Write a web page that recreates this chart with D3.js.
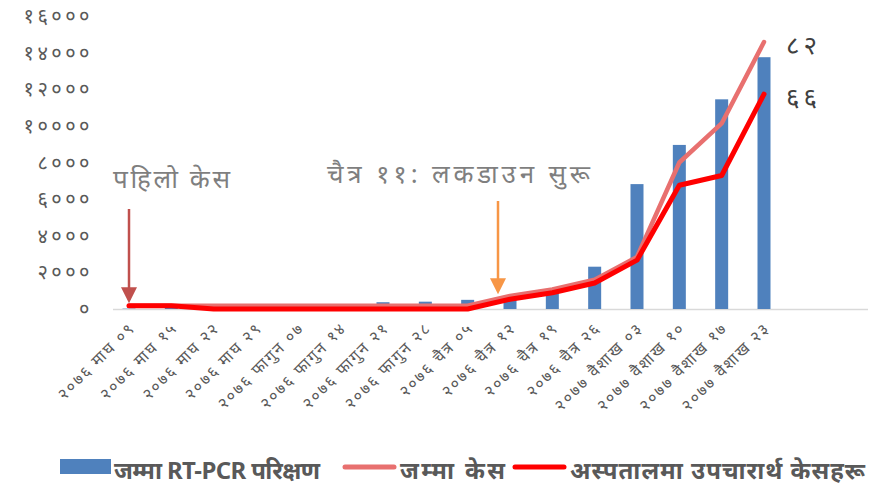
<!DOCTYPE html>
<html><head><meta charset="utf-8">
<script src="https://cdn.jsdelivr.net/npm/d3@7"></script>
<style>
html,body{margin:0;padding:0;background:#fff;}
svg{display:block;font-family:"Noto Sans","DejaVu Sans",sans-serif;}
</style></head>
<body>
<svg id="c" width="874" height="486"></svg>
<script>
// ---- data ----
const categories = ["२०७६ माघ ०९","२०७६ माघ १५","२०७६ माघ २२","२०७६ माघ २९","२०७६ फागुन ०७","२०७६ फागुन १४","२०७६ फागुन २१","२०७६ फागुन २८","२०७६ चैत्र ०५","२०७६ चैत्र १२","२०७६ चैत्र १९","२०७६ चैत्र २६","२०७७ वैशाख ०३","२०७७ वैशाख १०","२०७७ वैशाख १७","२०७७ वैशाख २३"];
const tests = [20, 60, 100, 150, 200, 250, 370, 400, 500, 650, 1090, 2310, 6820, 8960, 11450, 13750];
const totalCases = [1, 1, 1, 1, 1, 1, 1, 1, 1, 4, 6, 9, 16, 45, 57, 82];
const hospital = [1, 1, 0, 0, 0, 0, 0, 0, 0, 3, 5, 8, 15, 38, 41, 66];
const yTickValues = [0, 2000, 4000, 6000, 8000, 10000, 12000, 14000, 16000];
const yTickLabels = ["०","२०००","४०००","६०००","८०००","१००००","१२०००","१४०००","१६०००"];
const endLabels = ["८२","६६"];
const legendLabels = ["जम्मा RT-PCR परिक्षण","जम्मा केस","अस्पतालमा उपचारार्थ केसहरू"];
const annFirst = "पहिलो केस";
const annLockdown = "चैत्र ११: लकडाउन सुरू";

// ---- drawing ----
const svg = d3.select("#c");
const x = d3.scalePoint().domain(categories).range([129, 764]);
const y = d3.scaleLinear().domain([0, 16000]).range([309, 16]);
const y2 = d3.scaleLinear().domain([0, 90]).range([309, 16]);
const barW = 13;

const defs = svg.append("defs");
function marker(id, color){
  defs.append("marker").attr("id", id).attr("viewBox","0 0 10 10")
    .attr("refX", 8).attr("refY", 5).attr("markerWidth", 16).attr("markerHeight", 16)
    .attr("markerUnits","userSpaceOnUse").attr("orient","auto")
    .append("path").attr("d","M0,0 L10,5 L0,10 z").attr("fill", color);
}
marker("mRed", "#c0504d");
marker("mOrange", "#f79646");

// axis line
svg.append("line").attr("x1",113).attr("x2",868).attr("y1",y(0)+0.5).attr("y2",y(0)+0.5)
  .attr("stroke","#d9d9d9").attr("stroke-width",1.5);

// y tick labels
svg.append("g").selectAll("text").data(yTickValues).join("text")
  .attr("x", 93).attr("y", d => y(d)).attr("dy","0.35em")
  .attr("text-anchor","end").attr("fill","#595959").attr("font-size",20)
  .attr("letter-spacing", 3.5)
  .text((d,i) => yTickLabels[i]);

// bars
svg.append("g").selectAll("rect").data(tests).join("rect")
  .attr("x", (d,i) => x(categories[i]) - barW/2).attr("width", barW)
  .attr("y", d => y(d)).attr("height", d => y(0) - y(d))
  .attr("fill","#4f81bd");

// lines
const lineGen = d3.line().x((d,i) => x(categories[i])).y(d => y2(d));
svg.append("path").datum(totalCases).attr("d", lineGen)
  .attr("fill","none").attr("stroke","#e8706f").attr("stroke-width",4.5)
  .attr("stroke-linejoin","round").attr("stroke-linecap","round");
svg.append("path").datum(hospital).attr("d", lineGen)
  .attr("fill","none").attr("stroke","#ff0000").attr("stroke-width",5)
  .attr("stroke-linejoin","round").attr("stroke-linecap","round");

// end labels
const lastCat = categories[categories.length-1];
svg.append("text").attr("x", x(lastCat)+22).attr("y", y2(totalCases[15])+3).attr("dy","0.35em")
  .attr("fill","#404040").attr("font-size",26).attr("letter-spacing",4).text(endLabels[0]);
svg.append("text").attr("x", x(lastCat)+22).attr("y", y2(hospital[15])+3).attr("dy","0.35em")
  .attr("fill","#404040").attr("font-size",26).attr("letter-spacing",4).text(endLabels[1]);

// x labels
svg.append("g").selectAll("text").data(categories).join("text")
  .attr("transform", d => `translate(${x(d)+7},${329}) rotate(-45)`)
  .attr("text-anchor","end").attr("fill","#595959").attr("font-size",16)
  .attr("letter-spacing", 2)
  .text(d => d);

// annotations
svg.append("text").attr("x",113).attr("y",188).attr("fill","#7f7f7f").attr("font-size",26)
  .attr("textLength",117).attr("lengthAdjust","spacing").text(annFirst);
svg.append("line").attr("x1", x(categories[0])).attr("x2", x(categories[0]))
  .attr("y1",209).attr("y2",300).attr("stroke","#c0504d").attr("stroke-width",2.5)
  .attr("marker-end","url(#mRed)");
svg.append("text").attr("x",327).attr("y",183).attr("fill","#7f7f7f").attr("font-size",26)
  .attr("textLength",263).attr("lengthAdjust","spacing").text(annLockdown);
svg.append("line").attr("x1",498).attr("x2",498)
  .attr("y1",201).attr("y2",291).attr("stroke","#f79646").attr("stroke-width",2.5)
  .attr("marker-end","url(#mOrange)");

// legend
const lg = svg.append("g").attr("font-size",24).attr("font-weight","bold").attr("fill","#595959");
lg.append("rect").attr("x",60).attr("y",459).attr("width",51).attr("height",15).attr("fill","#4f81bd");
lg.append("text").attr("x",114).attr("y",479).attr("textLength",206).attr("lengthAdjust","spacing").text(legendLabels[0]);
lg.append("line").attr("x1",345).attr("x2",394).attr("y1",467).attr("y2",467).attr("stroke","#e8706f").attr("stroke-width",5).attr("stroke-linecap","round");
lg.append("text").attr("x",400).attr("y",479).attr("textLength",105).attr("lengthAdjust","spacing").text(legendLabels[1]);
lg.append("line").attr("x1",515).attr("x2",564).attr("y1",467).attr("y2",467).attr("stroke","#ff0000").attr("stroke-width",5).attr("stroke-linecap","round");
lg.append("text").attr("x",570).attr("y",479).attr("textLength",295).attr("lengthAdjust","spacing").text(legendLabels[2]);
</script>
</body></html>
